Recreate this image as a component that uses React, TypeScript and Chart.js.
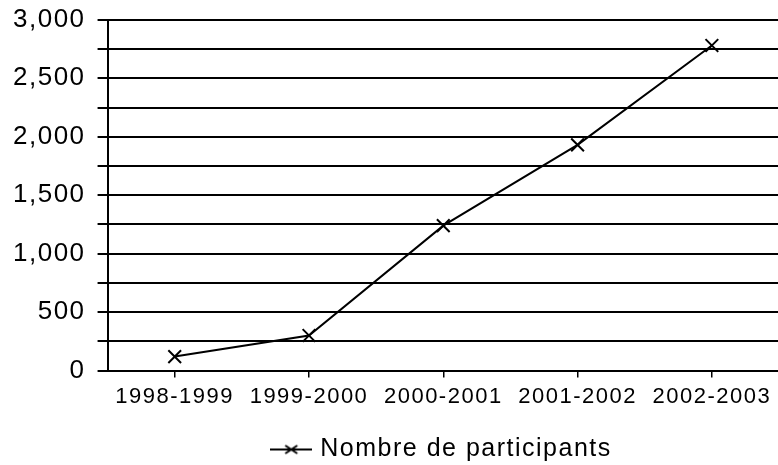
import { useEffect, useRef } from 'react';
import { Chart, registerables } from 'chart.js';

Chart.register(...registerables);

const categories = ['1998-1999', '1999-2000', '2000-2001', '2001-2002', '2002-2003'];
const participants = [120, 300, 1240, 1930, 2780];
const seriesLabel = 'Nombre de participants';
const yMin = 0;
const yMax = 3000;
const yStep = 250;
const yLabelStep = 500;

const FONT = "'Liberation Sans', Arial, sans-serif";

function makeLegendMarker(): HTMLCanvasElement {
  const c = document.createElement('canvas');
  c.width = 42;
  c.height = 16;
  const g = c.getContext('2d')!;
  g.strokeStyle = '#000';
  g.lineWidth = 2;
  g.beginPath();
  g.moveTo(0, 8);
  g.lineTo(42, 8);
  g.stroke();
  g.beginPath();
  g.moveTo(15, 4);
  g.lineTo(27, 12);
  g.moveTo(15, 12);
  g.lineTo(27, 4);
  g.stroke();
  return c;
}

const spacingPlugin = {
  id: 'letterSpacing',
  beforeInit(chart: any) {
    (chart.ctx as any).letterSpacing = '1.5px';
  },
  beforeUpdate(chart: any) {
    (chart.ctx as any).letterSpacing = '1.5px';
  },
  beforeDraw(chart: any) {
    (chart.ctx as any).letterSpacing = '1.5px';
  },
  afterLayout(chart: any) {
    const lg = chart.legend;
    if (!lg) return;
    const area = chart.chartArea;
    const desired = (area.left + area.right) / 2;
    const current = (lg.left + lg.right) / 2;
    const dx = desired - current;
    lg.left += dx;
    lg.right += dx;
  },
};

export default function App() {
  const ref = useRef<HTMLCanvasElement | null>(null);

  useEffect(() => {
    if (!ref.current) return;
    const marker = makeLegendMarker();
    const chart = new Chart(ref.current, {
      type: 'line',
      data: {
        labels: categories,
        datasets: [
          {
            label: seriesLabel,
            data: participants,
            borderColor: '#000',
            backgroundColor: '#000',
            borderWidth: 2,
            tension: 0,
            pointStyle: 'crossRot',
            pointRadius: 9,
            pointBorderWidth: 2,
            pointBorderColor: '#000',
            fill: false,
          },
        ],
      },
      options: {
        animation: false,
        responsive: false,
        layout: { padding: { left: 1, right: 7, top: 0, bottom: -7 } },
        plugins: {
          tooltip: { enabled: false },
          legend: {
            position: 'bottom',
            labels: {
              color: '#000',
              font: { family: FONT, size: 25 },
              usePointStyle: true,
              pointStyleWidth: 33,
              boxHeight: 16,
              padding: 0,
              generateLabels: (ch: any) =>
                ch.data.datasets.map((ds: any, i: number) => ({
                  text: ds.label,
                  pointStyle: marker,
                  fillStyle: '#000',
                  strokeStyle: '#000',
                  lineWidth: 0,
                  datasetIndex: i,
                  hidden: false,
                })),
            },
          },
        },
        scales: {
          x: {
            type: 'category',
            offset: true,
            afterFit: (scale: any) => {
              scale.height += 21;
            },
            grid: {
              display: true,
              drawOnChartArea: false,
              drawTicks: true,
              tickLength: 7,
              color: '#000',
              lineWidth: 1.5,
              offset: false,
            },
            border: { display: true, color: '#000', width: 2 },
            ticks: {
              color: '#000',
              font: { family: FONT, size: 22 },
              padding: 6,
              maxRotation: 0,
              autoSkip: false,
            },
          },
          y: {
            min: yMin,
            max: yMax,
            grid: {
              color: '#000',
              lineWidth: 2,
              tickLength: 10,
              drawTicks: true,
            },
            border: { display: true, color: '#000', width: 2 },
            ticks: {
              stepSize: yStep,
              autoSkip: false,
              color: '#000',
              font: { family: FONT, size: 26, lineHeight: 0.6 },
              padding: 12,
              callback: (v: any) =>
                Number(v) % yLabelStep === 0 ? Number(v).toLocaleString('en-US') : '',
            },
          },
        },
      },
      plugins: [spacingPlugin],
    });
    return () => chart.destroy();
  }, []);

  return (
    <div
      style={{
        position: 'fixed',
        left: 0,
        top: 0,
        width: 778,
        height: 465,
        overflow: 'hidden',
        background: '#fff',
      }}
    >
      <canvas ref={ref} width={790} height={465} style={{ display: 'block' }} />
    </div>
  );
}
